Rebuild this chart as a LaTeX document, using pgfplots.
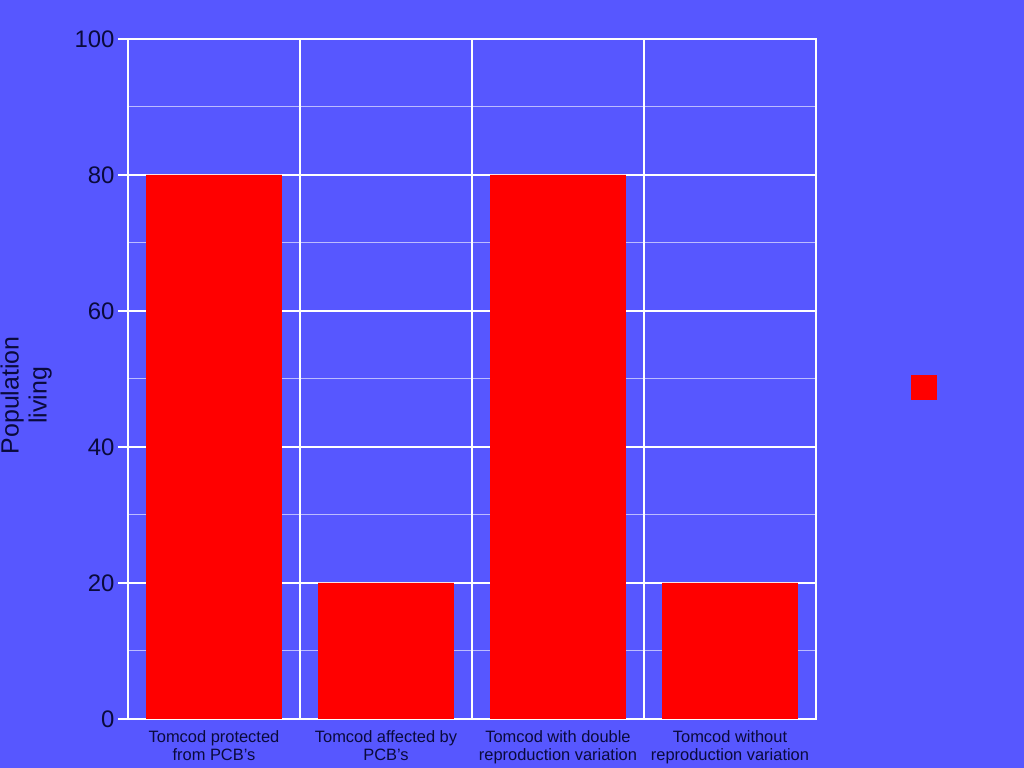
\documentclass[border=0pt]{standalone}
\usepackage{pgfplots}
\pgfplotsset{compat=1.18}
\usepackage{fontspec}
\setmainfont{Liberation Sans}
\definecolor{bg}{RGB}{87,87,255}
\definecolor{txt}{RGB}{10,10,60}
\begin{document}
\begin{tikzpicture}
\fill[bg] (-128bp,-49bp) rectangle (896bp,719bp);
\begin{axis}[
  at={(0,0)}, anchor=south west,
  scale only axis, width=688bp, height=680bp,
  /pgf/number format/assume math mode=true,
  xmin=-0.5, xmax=3.5, ymin=0, ymax=100,
  axis line style={white, line width=1.5bp},
  xtick={0,1,2,3},
  xticklabels={{Tomcod protected\\from PCB's},{Tomcod affected by\\PCB's},{Tomcod with double\\reproduction variation},{Tomcod without\\reproduction variation}},
  x tick label style={align=center, font=\fontsize{16.5}{18}\selectfont, text=txt, yshift=-8bp},
  major x tick style={draw=none},
  extra x ticks={-0.5,0.5,1.5,2.5,3.5},
  extra x tick labels={},
  extra x tick style={grid=major, major grid style={white, line width=1.5bp}, tick style={white, line width=1.5bp}, major tick length=10bp, tick align=outside},
  ytick={0,20,...,100},
  y tick label style={font=\fontsize{24}{24}\selectfont, text=txt},
  ytick align=outside, major tick length=10bp,
  y tick style={white, line width=1.5bp},
  ymajorgrids, major y grid style={white, line width=1.5bp},
  minor y tick num=1, yminorgrids, minor y grid style={white!60!bg, line width=1bp},
  minor tick length=0pt,
  tick pos=left,
  ylabel={Population\\living},
  ylabel style={align=center, font=\fontsize{25}{28}\selectfont, text=txt, at={(axis description cs:-0.148,0.476)}, anchor=center},
  legend style={at={(1.16,0.487)}, anchor=center, draw=none, fill=none},
  legend image code/.code={\fill[red] (0bp,-12.5bp) rectangle (26bp,12.5bp);},
]
\addplot[ybar, bar width=0.79, fill=red, draw=none] coordinates {(0,80) (1,20) (2,80) (3,20)};
\addlegendentry{}
\end{axis}
\pgfresetboundingbox
\path (-128bp,-49bp) rectangle (896bp,719bp);
\end{tikzpicture}
\end{document}
